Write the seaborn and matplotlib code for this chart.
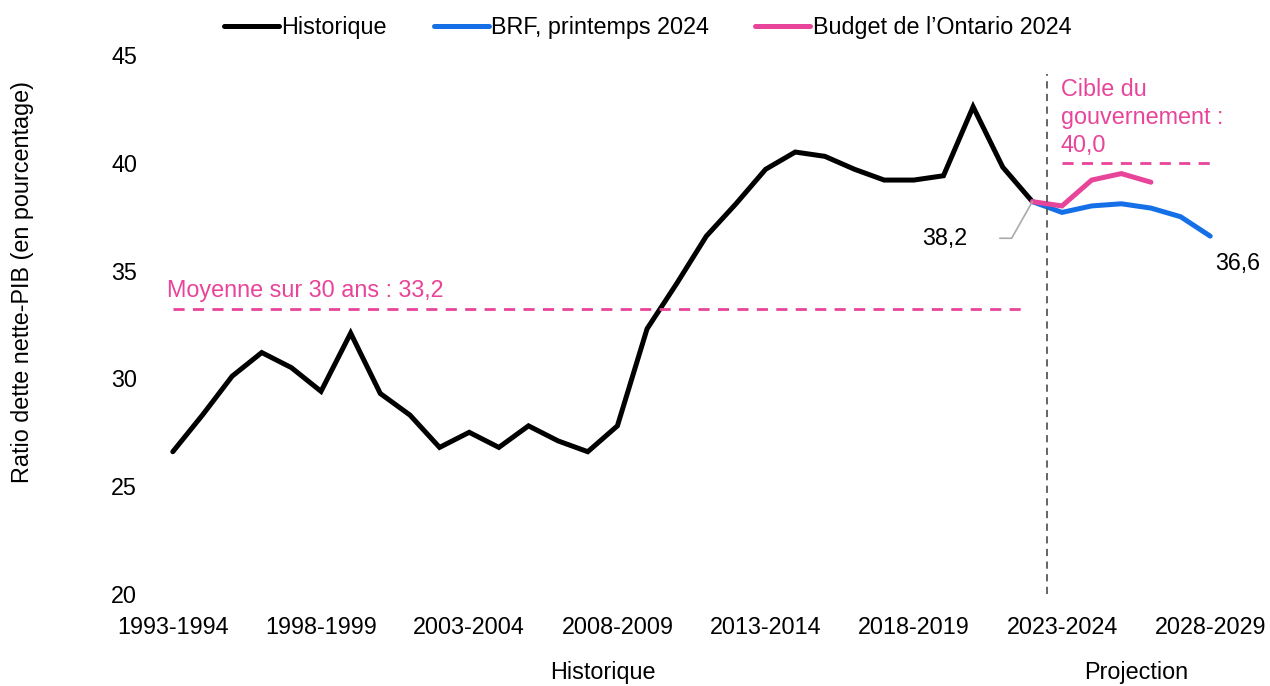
import numpy as np
import pandas as pd
import matplotlib.pyplot as plt
import seaborn as sns

# Exercices 1993-1994 a 2028-2029
years = [f"{y}-{y + 1}" for y in range(1993, 2029)]

historique = [26.6, 28.3, 30.1, 31.2, 30.5, 29.4, 32.1, 29.3, 28.3, 26.8,
              27.5, 26.8, 27.8, 27.1, 26.6, 27.8, 32.3, 34.4, 36.6, 38.1,
              39.7, 40.5, 40.3, 39.7, 39.2, 39.2, 39.4, 42.6, 39.8, 38.2]
brf = [38.2, 37.7, 38.0, 38.1, 37.9, 37.5, 36.6]
budget = [38.2, 38.0, 39.2, 39.5, 39.1]

moyenne = 33.2
cible = 40.0

BLACK = "#000000"
BLUE = "#1570E8"
PINK = "#E8449A"
FS = 16.8

sns.set_theme(style="white")
plt.rcParams["font.family"] = ["Liberation Sans", "DejaVu Sans"]
plt.rcParams["text.color"] = "black"
plt.rcParams["xtick.color"] = "black"
plt.rcParams["ytick.color"] = "black"

start = len(historique) - 1
df = pd.concat([
    pd.DataFrame({"x": range(len(historique)), "val": historique, "serie": "Historique"}),
    pd.DataFrame({"x": range(start, start + len(brf)), "val": brf, "serie": "BRF, printemps 2024"}),
    pd.DataFrame({"x": range(start, start + len(budget)), "val": budget, "serie": "Budget de l\u2019Ontario 2024"}),
])

fig = plt.figure(figsize=(12.7, 6.86), dpi=100)
ax = fig.add_axes([0.1244, 0.1341, 0.8402, 0.7857])

sns.lineplot(data=df, x="x", y="val", hue="serie",
             palette=[BLACK, BLUE, PINK], linewidth=3.6, ax=ax,
             legend=True)
for ln in ax.lines:
    ln.set_solid_joinstyle("miter")
    ln.set_solid_capstyle("round")

# reference lines
ax.hlines(moyenne, 0, 28.8, colors=PINK, linestyles=(0, (4, 3)), linewidth=2)
ax.hlines(cible, 30, 35, colors=PINK, linestyles=(0, (4, 3)), linewidth=2)
ax.axvline(start + 0.5, ymin=0, ymax=0.965, color="#595959",
           linestyle=(0, (4, 3)), linewidth=1.3)

# annotations
ax.text(-0.2, 34.1, "Moyenne sur 30 ans : 33,2", color=PINK, fontsize=FS,
        va="center", ha="left")
ax.text(29.95, 43.95, "Cible du\ngouvernement :\n40,0", color=PINK, fontsize=FS,
        va="top", ha="left", linespacing=1.28)
ax.plot([27.9, 28.3, 29], [36.5, 36.5, 38.2], color="#AAAAAA", linewidth=1.2)
ax.text(26.8, 36.5, "38,2", fontsize=FS, va="center", ha="right")
ax.text(35.17, 35.35, "36,6", fontsize=FS, va="center", ha="left")

ax.set_xlim(-0.5, 35.5)
ax.set_ylim(20, 45)
ax.set_yticks(range(20, 46, 5))
ax.set_xticks(range(0, 36, 5))
ax.set_xticklabels(years[::5])
ax.tick_params(axis="both", length=0, labelsize=FS)
ax.tick_params(axis="x", pad=16)
ax.tick_params(axis="y", pad=15)
ax.set_xlabel("")
ax.set_ylabel("")
sns.despine(ax=ax, left=True, bottom=True)

handles, labels = ax.get_legend_handles_labels()
ax.get_legend().remove()
fig.legend(handles, labels, loc="center", bbox_to_anchor=(0.51, 0.96), ncol=3,
           frameon=False, fontsize=FS, handlelength=2.35, handletextpad=0.1,
           columnspacing=2.0)

fig.text(0.018, 0.589, "Ratio dette nette-PIB (en pourcentage)", rotation=90,
         fontsize=FS, va="center", ha="center")
fig.text(0.475, 0.02, "Historique", fontsize=FS, ha="center", va="center")
fig.text(0.895, 0.02, "Projection", fontsize=FS, ha="center", va="center")

fig.savefig("out.png", dpi=100)
